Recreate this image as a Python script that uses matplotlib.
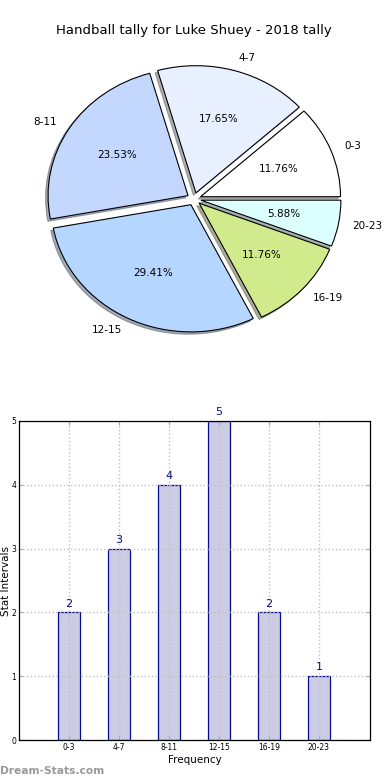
import matplotlib
matplotlib.use("Agg")
import matplotlib.pyplot as plt

categories = ["0-3", "4-7", "8-11", "12-15", "16-19", "20-23"]
counts = [2, 3, 4, 5, 2, 1]
pie_colors = ["#ffffff", "#e8f0ff", "#c4d8ff", "#b5d6ff", "#d1eb8c", "#dcffff"]
title = "Handball tally for Luke Shuey - 2018 tally"

fig = plt.figure(figsize=(3.9, 7.8), dpi=100)

# Pie chart (not equal aspect: slightly squashed vertically like the reference)
axp = fig.add_axes([19/390, 1 - 358/780, 350/390, 318/780])
wedges, texts, autotexts = axp.pie(
    counts, labels=categories, colors=pie_colors, autopct="%.2f%%",
    startangle=0, explode=[0.05]*len(counts),
    shadow={"ox": -0.013, "oy": -0.013, "shade": 0.6},
    wedgeprops=dict(edgecolor="black", linewidth=0.8),
    textprops=dict(fontsize=7.5))
axp.set_aspect("auto")
axp.set_xlim(-1.25, 1.25)
axp.set_ylim(-1.25, 1.25)
axp.set_title(title, fontsize=9.5, pad=4)

# Bar chart
axb = fig.add_axes([19/390, 40/780, 351/390, 319/780])
x = list(range(len(categories)))
bars = axb.bar(x, counts, width=0.45, color="#cccce4", edgecolor="#0a0a8c", linewidth=0.9)
for xi, c in zip(x, counts):
    axb.text(xi, c + 0.06, str(c), ha="center", va="bottom", color="#0a0a8c", fontsize=8)
axb.set_xlim(-1, 6.02)
axb.set_ylim(0, 5)
axb.set_xticks(x)
axb.set_xticklabels(categories, fontsize=5.5)
axb.set_yticks(range(0, 6))
axb.set_yticklabels([str(v) for v in range(0, 6)], fontsize=5.5)
axb.tick_params(direction="in", length=3, color="#aaaaaa", pad=2, top=True, right=True)
axb.grid(True, linestyle=":", color="#c0c0c0", linewidth=1.0)
axb.set_axisbelow("line")
for s in axb.spines.values():
    s.set_linewidth(0.9)
    s.set_zorder(3)
axb.set_xlabel("Frequency", fontsize=7.5, labelpad=2)
axb.set_ylabel("Stat Intervals", fontsize=7.5, labelpad=0.5)

fig.text(0.0, 1 - 771/780, "Dream-Stats.com", fontsize=7.7, color="#999999",
         fontweight="bold", ha="left", va="center")

fig.savefig("out.png", dpi=100)
